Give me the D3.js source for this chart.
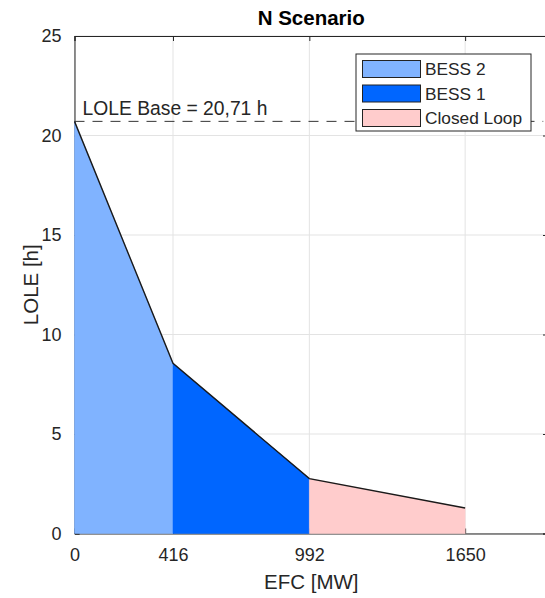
<!DOCTYPE html>
<html>
<head>
<meta charset="utf-8">
<script src="https://cdn.jsdelivr.net/npm/d3@7"></script>
<style>
  html, body { margin: 0; padding: 0; background: #fff; }
  svg { display: block; font-family: "Liberation Sans", Arial, Helvetica, sans-serif; }
</style>
</head>
<body>
<svg id="chart" width="545" height="598"></svg>
<script>
// EFC breakpoints [MW] and the LOLE reached at each one [h]
const efc = [0, 416, 992, 1650];
const lole = [20.71, 8.55, 2.76, 1.28];
const loleBase = 20.71;

// Each technology fills the segment between two consecutive breakpoints
const seriesNames = ["BESS 2", "BESS 1", "Closed Loop"];
const seriesColors = ["#80b3ff", "#0066ff", "#ffcccc"];

const xTicks = [0, 416, 992, 1650];
const yTicks = [0, 5, 10, 15, 20, 25];

const svg = d3.select("#chart");
const W = 545, H = 598;
const margin = { left: 74.5, right: -3, top: 36, bottom: 64.5 };

const x = d3.scaleLinear().domain([0, 2000]).range([margin.left, W - margin.right]);
const y = d3.scaleLinear().domain([0, 25]).range([H - margin.bottom, margin.top]);

const axisColor = "#262626";
const gridColor = "#e3e3e3";

// grid
const grid = svg.append("g");
grid.selectAll("line.gx").data(xTicks).join("line")
  .attr("x1", d => x(d)).attr("x2", d => x(d))
  .attr("y1", y(0)).attr("y2", y(25))
  .attr("stroke", gridColor).attr("stroke-width", 1);
grid.selectAll("line.gy").data(yTicks).join("line")
  .attr("x1", x(0)).attr("x2", x(2000))
  .attr("y1", d => y(d)).attr("y2", d => y(d))
  .attr("stroke", gridColor).attr("stroke-width", 1);

// axes with inward ticks on all four sides
const tickLen = 5;
const bottomAxis = d3.axisBottom(x).tickValues(xTicks).tickSize(-tickLen).tickPadding(tickLen + 10).tickFormat(d3.format("d"));
const topAxis = d3.axisTop(x).tickValues(xTicks).tickSize(-tickLen).tickFormat("");
const leftAxis = d3.axisLeft(y).tickValues(yTicks).tickSize(-tickLen).tickPadding(tickLen + 8).tickFormat(d3.format("d"));
const rightAxis = d3.axisRight(y).tickValues(yTicks).tickSize(-tickLen).tickFormat("");

function styleAxis(g) {
  g.select(".domain").attr("stroke", axisColor).attr("stroke-width", 1);
  g.selectAll(".tick line").attr("stroke", axisColor).attr("stroke-width", 1);
  g.selectAll(".tick text").attr("fill", axisColor).attr("font-size", 18)
    .attr("font-family", "Liberation Sans, Arial, sans-serif");
}

svg.append("g").attr("transform", `translate(0,${y(0)})`).call(bottomAxis).call(styleAxis);
svg.append("g").attr("transform", `translate(0,${y(25)})`).call(topAxis).call(styleAxis);
svg.append("g").attr("transform", `translate(${x(0)},0)`).call(leftAxis).call(styleAxis);
svg.append("g").attr("transform", `translate(${x(2000)},0)`).call(rightAxis).call(styleAxis);

// filled segments
const area = d3.area().x(d => x(d[0])).y0(y(0)).y1(d => y(d[1]));
const segments = seriesNames.map((name, i) => ({
  name, color: seriesColors[i],
  pts: [[efc[i], lole[i]], [efc[i + 1], lole[i + 1]]]
}));
svg.append("g").selectAll("path").data(segments).join("path")
  .attr("d", d => area(d.pts))
  .attr("fill", d => d.color)
  .attr("stroke", d => d.color).attr("stroke-width", 0.5);

// LOLE curve
const line = d3.line().x((d, i) => x(efc[i])).y(d => y(d));
svg.append("path").datum(lole)
  .attr("d", line)
  .attr("fill", "none").attr("stroke", "#1a1a1a").attr("stroke-width", 1.4);

// base LOLE reference
svg.append("line")
  .attr("x1", x(0)).attr("x2", x(1980))
  .attr("y1", y(loleBase)).attr("y2", y(loleBase))
  .attr("stroke", "#333").attr("stroke-width", 1)
  .attr("stroke-dasharray", "10,8");
svg.append("text")
  .attr("x", x(0) + 8).attr("y", y(loleBase) - 6)
  .attr("fill", axisColor).attr("font-size", 19.3)
  .text("LOLE Base = " + d3.format(".2f")(loleBase).replace(".", ",") + " h");

// labels
svg.append("text")
  .attr("x", (x(0) + x(2000)) / 2).attr("y", 25)
  .attr("text-anchor", "middle").attr("font-weight", "bold").attr("font-size", 20.5)
  .attr("fill", "#000").text("N Scenario");
svg.append("text")
  .attr("x", (x(0) + x(2000)) / 2).attr("y", 589)
  .attr("text-anchor", "middle").attr("font-size", 20.5)
  .attr("fill", axisColor).text("EFC [MW]");
svg.append("text")
  .attr("transform", `translate(38,${(y(0) + y(25)) / 2}) rotate(-90)`)
  .attr("text-anchor", "middle").attr("font-size", 20.5)
  .attr("fill", axisColor).text("LOLE [h]");

// legend
const legend = svg.append("g").attr("transform", "translate(356,54)");
legend.append("rect").attr("width", 175).attr("height", 77)
  .attr("fill", "#fff").attr("stroke", axisColor).attr("stroke-width", 1);
const rows = legend.selectAll("g").data(segments).join("g")
  .attr("transform", (d, i) => `translate(0,${6 + i * 24.5})`);
rows.append("rect").attr("x", 6.5).attr("y", 0.5).attr("width", 58).attr("height", 17)
  .attr("fill", d => d.color).attr("stroke", "#222").attr("stroke-width", 1);
rows.append("text").attr("x", 69).attr("y", 15)
  .attr("font-size", 17.3).attr("fill", axisColor).text(d => d.name);
</script>
</body>
</html>
